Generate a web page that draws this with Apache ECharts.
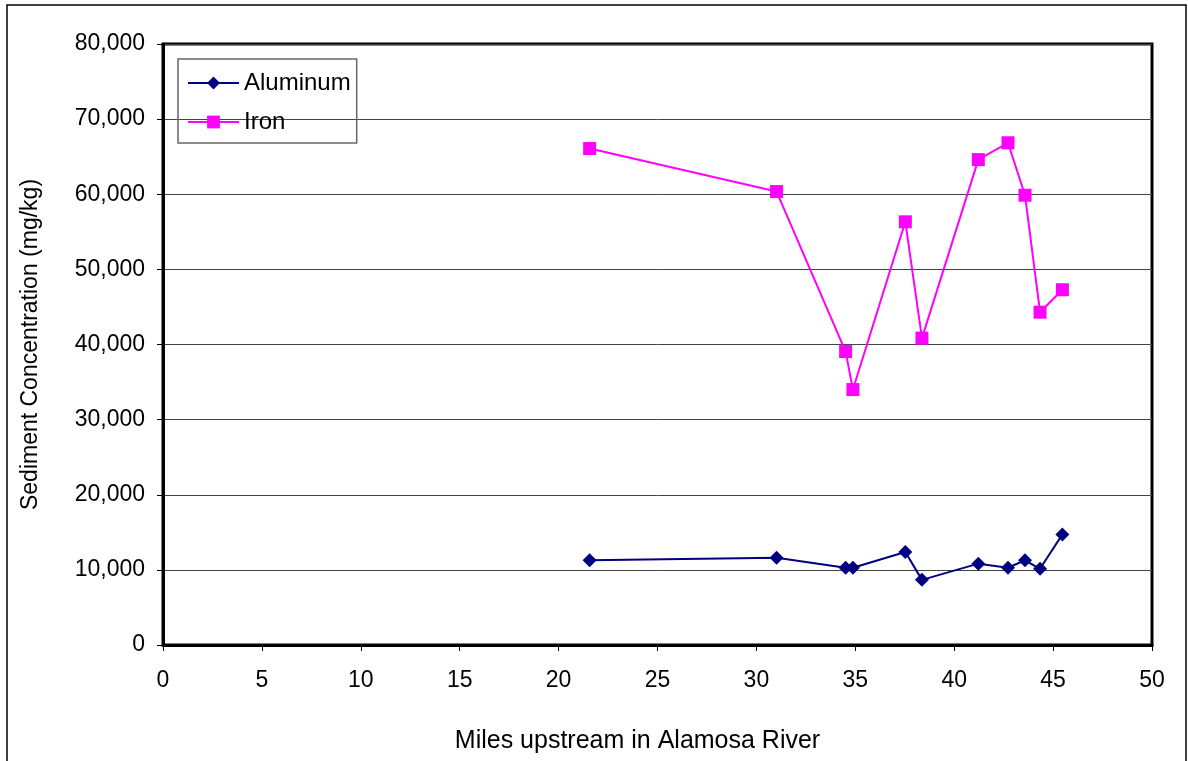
<!DOCTYPE html>
<html>
<head>
<meta charset="utf-8">
<script src="https://cdn.jsdelivr.net/npm/echarts@6/dist/echarts.min.js"></script>
<style>
  html, body { margin: 0; padding: 0; background: #fff; }
  #main { width: 1188px; height: 761px; }
</style>
</head>
<body>
<div id="main"></div>
<script>
// miles upstream for each sampling site
var miles = [21.57, 31.02, 34.51, 34.88, 37.53, 38.37, 41.22, 42.72, 43.58, 44.34, 45.47];
var aluminum = [11280, 11600, 10280, 10280, 12390, 8670, 10830, 10280, 11280, 10140, 14720];
var iron = [66080, 60360, 39060, 34000, 56330, 40850, 64610, 66850, 59870, 44300, 47290];

function pairs(xs, ys) {
  var out = [];
  for (var i = 0; i < xs.length; i++) {
    out.push([xs[i], ys[i]]);
  }
  return out;
}

var font = 'Liberation Sans, Arial, sans-serif';
var myChart = echarts.init(document.getElementById('main'));
myChart.setOption({
  animation: false,
  graphic: [
    {
      type: 'rect',
      shape: {x: 7, y: 5, width: 1179, height: 770},
      style: {fill: 'none', stroke: '#000', lineWidth: 1.5},
      silent: true
    }
  ],
  grid: {
    left: 163,
    top: 44,
    width: 989,
    height: 601,
    show: true,
    borderColor: '#000',
    borderWidth: 3
  },
  legend: {
    orient: 'vertical',
    left: 178,
    top: 59,
    width: 178,
    padding: [12, 6, 9, 9],
    itemGap: 15,
    itemWidth: 51,
    itemHeight: 16,
    borderColor: '#666',
    borderWidth: 1.5,
    textStyle: {fontFamily: font, fontSize: 24, color: '#000'},
    data: ['Aluminum', 'Iron']
  },
  xAxis: {
    type: 'value',
    min: 0,
    max: 50,
    interval: 5,
    name: 'Miles upstream in Alamosa River',
    nameLocation: 'middle',
    nameGap: 84,
    nameTextStyle: {fontFamily: font, fontSize: 25, color: '#000', padding: [0, 40, 0, 0]},
    axisLine: {show: true, lineStyle: {color: '#000', width: 3}},
    axisTick: {show: true, length: 6, lineStyle: {color: '#000', width: 1}},
    axisLabel: {fontFamily: font, fontSize: 23, color: '#000', margin: 24},
    splitLine: {show: false}
  },
  yAxis: {
    type: 'value',
    min: 0,
    max: 80000,
    interval: 10000,
    name: 'Sediment Concentration (mg/kg)',
    nameLocation: 'middle',
    nameGap: 121,
    nameTextStyle: {fontFamily: font, fontSize: 23, color: '#000'},
    axisLine: {show: true, lineStyle: {color: '#000', width: 3}},
    axisTick: {show: true, length: 6, lineStyle: {color: '#000', width: 1}},
    axisLabel: {
      fontFamily: font, fontSize: 23, color: '#000', margin: 18,
      formatter: function (v) { return v.toLocaleString('en-US'); }
    },
    splitLine: {show: true, lineStyle: {color: '#444', width: 1}}
  },
  series: [
    {
      name: 'Aluminum',
      type: 'line',
      data: pairs(miles, aluminum),
      symbol: 'diamond',
      symbolSize: 14,
      lineStyle: {color: '#000080', width: 2},
      itemStyle: {color: '#000080'}
    },
    {
      name: 'Iron',
      type: 'line',
      data: pairs(miles, iron),
      symbol: 'rect',
      symbolSize: 13,
      lineStyle: {color: '#FF00FF', width: 2},
      itemStyle: {color: '#FF00FF'}
    }
  ]
});
</script>
</body>
</html>
